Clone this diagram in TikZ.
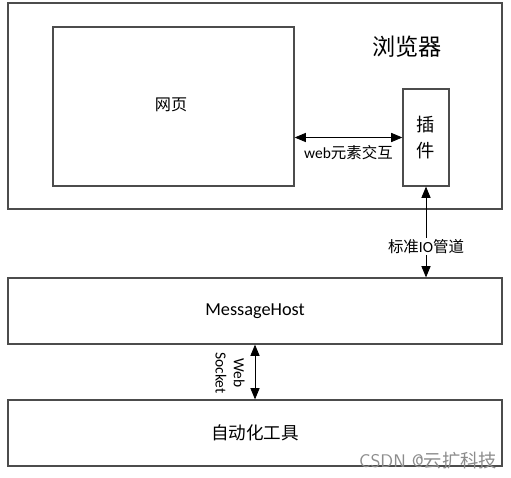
\documentclass[tikz,border=0pt]{standalone}
\usepackage{fontspec}
\setmainfont{Carlito}
\newfontfamily\cjk{Noto Sans CJK SC}
\usetikzlibrary{arrows.meta, positioning, calc}

\tikzset{
  box/.style={draw=black!70, line width=0.9pt, inner sep=0pt},
  link/.style={{Triangle[length=8pt,width=6.5pt]}-{Triangle[length=8pt,width=6.5pt]}, line width=0.6pt},
  lbl/.style={font=\fontsize{11}{13}\selectfont, inner sep=1pt}
}

\begin{document}
\begin{tikzpicture}[x=0.025cm, y=-0.025cm]
  \useasboundingbox (0,0) rectangle (511,478);

  % browser part
  \node[box, minimum width=12.35cm, minimum height=5.15cm] (browser) at (255,106) {};
  \node[font=\cjk\fontsize{16.5}{19}\selectfont] (browsertext) at (407,47) {浏览器};
  \node[box, minimum width=6.025cm, minimum height=3.975cm] (page) at (173.5,106.5) {};
  \node[font=\cjk\fontsize{11.5}{14}\selectfont] (pagetext) at (171,105) {网页};
  \node[box, minimum width=1.15cm, minimum height=2.425cm, align=center, font=\cjk\fontsize{13}{15}\selectfont] (plugin) at (426,137.5) {插\\[3pt]件};

  % lower boxes
  \node[box, minimum width=12.35cm, minimum height=1.65cm, font=\fontsize{13}{15}\selectfont] (msghost) at (255,311) {MessageHost};
  \node[box, minimum width=12.35cm, minimum height=1.65cm, font=\cjk\fontsize{12.5}{15}\selectfont] (tool) at (255,433) {自动化工具};

  % connectors
  \draw[link] (page.east |- plugin.west) -- node[lbl, below=4pt] {web{\cjk 元素交互}} (plugin.west);
  \draw[link] (plugin.south) -- node[lbl, pos=0.66, fill=white] {{\cjk 标准}IO{\cjk 管道}} (plugin.south |- msghost.north);
  \draw[link] (msghost.south) -- (tool.north);
  \node[lbl, rotate=-90, align=center, inner sep=0pt] (wstext) at (230,373) {Web\\Socket};

  % watermark
  \node[text=black!45, font=\fontsize{13}{15}\sffamily] (mark) at (428,461) {CSDN @{\cjk 云扩科技}};
\end{tikzpicture}
\end{document}
